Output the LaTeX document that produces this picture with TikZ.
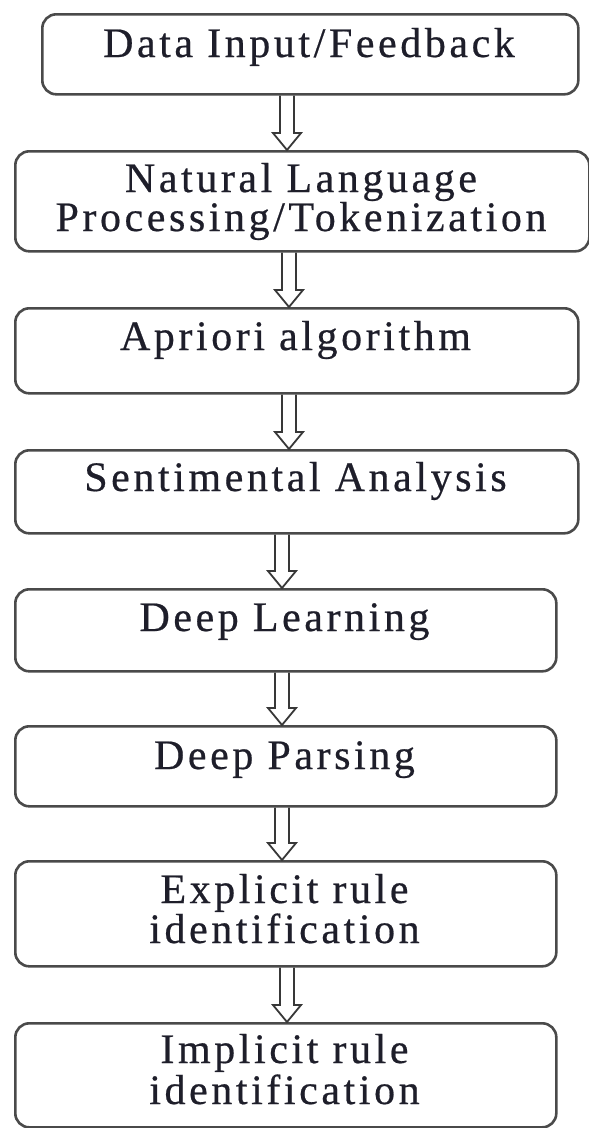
\documentclass[tikz,border=0pt]{standalone}
\usepackage{fontspec}
\setmainfont{Liberation Serif}[LetterSpace=8.5, FakeBold=0.5]
\usetikzlibrary{calc}
\definecolor{boxgray}{HTML}{4A4A4A}
\definecolor{arrowgray}{HTML}{383838}
\definecolor{ink}{HTML}{1E1E2A}
% hollow block arrow from the bottom of one box to the top of the next, at a given x
\newcommand\flowarrow[3]{%
  \draw[arrowline] let \p1=(#1.south), \p2=(#2.north) in
    (#3-7,\y1) -- (#3-7,\y2+17) -- (#3-14,\y2+17) -- (#3,\y2)
    -- (#3+14,\y2+17) -- (#3+7,\y2+17) -- (#3+7,\y1);}
\begin{document}
\begin{tikzpicture}[x=1pt,y=1pt,
  stagebox/.style={draw=boxgray, line width=2.6pt, rounded corners=14pt,
    inner sep=0pt, anchor=north west},
  lbl/.style={anchor=base, inner sep=0pt, text=ink,
    font=\fontsize{42}{46}\selectfont},
  arrowline/.style={draw=arrowgray, line width=1.8pt, line join=miter}]
\useasboundingbox (0,0) rectangle (589,-1128);
\fill[white] (0,0) rectangle (589,-1128);

% stage boxes
\node[stagebox, minimum width=536pt, minimum height=80pt]  (b1) at (41,-13)   {};
\node[stagebox, minimum width=574pt, minimum height=100pt] (b2) at (14,-150)  {};
\node[stagebox, minimum width=563pt, minimum height=85pt]  (b3) at (14,-307)  {};
\node[stagebox, minimum width=563pt, minimum height=83pt]  (b4) at (14,-449)  {};
\node[stagebox, minimum width=541pt, minimum height=82pt]  (b5) at (14,-588)  {};
\node[stagebox, minimum width=541pt, minimum height=80pt]  (b6) at (14,-725)  {};
\node[stagebox, minimum width=541pt, minimum height=105pt] (b7) at (14,-860)  {};
\node[stagebox, minimum width=541pt, minimum height=104pt] (b8) at (14,-1022) {};

% labels
\node[lbl] (t1)  at (309,-57)    {Data Input/Feedback};
\node[lbl] (t2a) at (301,-192)   {Natural Language};
\node[lbl] (t2b) at (301,-231)   {Processing/Tokenization};
\node[lbl] (t3)  at (295.5,-350) {Apriori algorithm};
\node[lbl] (t4)  at (295.5,-491) {Sentimental Analysis};
\node[lbl] (t5)  at (284.5,-631) {Deep Learning};
\node[lbl] (t6)  at (284.5,-769) {Deep Parsing};
\node[lbl] (t7a) at (284.5,-903) {Explicit rule};
\node[lbl] (t7b) at (284.5,-943) {identification};
\node[lbl] (t8a) at (284.5,-1063){Implicit rule};
\node[lbl] (t8b) at (284.5,-1104){identification};

% connectors
\flowarrow{b1}{b2}{287}
\flowarrow{b2}{b3}{289}
\flowarrow{b3}{b4}{289}
\flowarrow{b4}{b5}{282}
\flowarrow{b5}{b6}{282}
\flowarrow{b6}{b7}{282}
\flowarrow{b7}{b8}{287}
\end{tikzpicture}
\end{document}
